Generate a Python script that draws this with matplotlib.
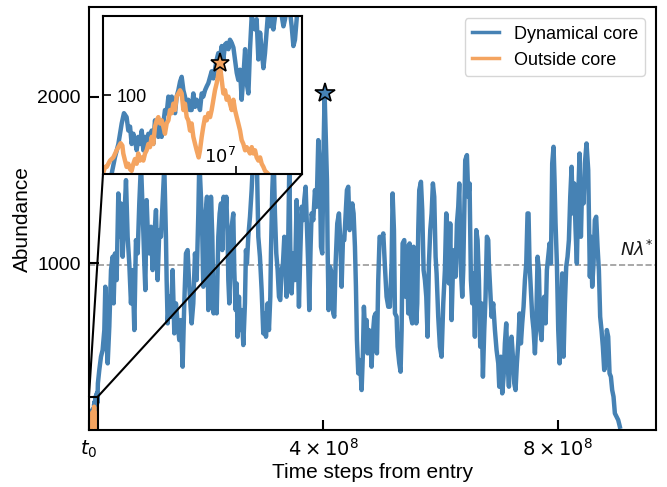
import numpy as np
import matplotlib.pyplot as plt
from matplotlib.patches import Rectangle, ConnectionPatch
from matplotlib.lines import Line2D

plt.rcParams['font.family'] = ['Liberation Sans', 'DejaVu Sans']
plt.rcParams['mathtext.fontset'] = 'dejavusans'

# time in units of 1e6 steps, abundance in individuals
# early part of the dynamical core (seen in the inset)
t_core_early = [0.65, 0.90, 1.16, 1.41, 1.58, 1.78, 1.91, 2.04, 2.16, 2.29, 2.41, 2.54, 2.66, 2.79,
                2.92, 3.04, 3.17, 3.29, 3.42, 3.54, 3.67, 3.79, 3.92, 4.05, 4.17, 4.30, 4.42, 4.55,
                4.67, 4.80, 4.93, 5.05, 5.18, 5.30, 5.43, 5.55, 5.68, 5.81, 5.93, 6.06, 6.18, 6.31,
                6.43, 6.56, 6.68, 6.81, 6.94, 7.06, 7.19, 7.31, 7.44, 7.56, 7.69, 7.82, 7.94, 8.07,
                8.19, 8.32, 8.44, 8.57, 8.69, 8.82, 8.95, 9.07, 9.20, 9.32, 9.45, 9.57, 9.70, 9.83,
                9.95, 10.08, 10.20, 10.33, 10.45, 10.58, 10.71, 10.83, 10.96, 11.08, 11.21, 11.33,
                11.46, 11.58, 11.71, 11.84, 11.96, 12.09, 12.21, 12.34, 12.46, 12.59, 12.72, 12.84,
                13.10, 13.47, 13.60, 13.72, 13.97, 14.22, 14.35, 14.47, 14.60, 14.78]
core_early = [0, 21, 38, 64, 77, 72, 55, 60, 38, 51, 43, 30, 47, 38,
              55, 30, 47, 38, 51, 47, 55, 38, 68, 55, 47, 68, 47, 64,
              81, 77, 98, 85, 98, 89, 77, 98, 106, 117, 123, 106, 98, 81,
              94, 81, 81, 102, 85, 94, 89, 81, 102, 98, 106, 111, 115, 123,
              130, 121, 132, 145, 153, 149, 162, 145, 164, 166, 158, 170, 166, 160,
              145, 128, 119, 132, 94, 123, 158, 115, 102, 158, 201, 187,
              183, 196, 145, 179, 158, 134, 153, 183, 209, 187, 204, 183,
              217, 200, 187, 196, 225, 187, 162, 170, 196, 234]

# rest of the dynamical core
t_core_late = [15.2, 17.6, 20.5, 23.3, 26.2, 27.9, 30.2, 31.9, 34.7, 37.6, 40.4, 42.1, 44.4, 47.2,
               50.1, 51.8, 54.6, 57.5, 60.3, 63.2, 66.0, 68.8, 71.7, 74.5, 77.4, 80.2, 83.1, 85.9,
               88.8, 91.6, 94.5, 96.2, 98.4, 100.1, 103.0, 105.8, 108.7, 111.5, 114.4, 117.2, 120.1,
               122.9, 125.7, 128.6, 131.4, 132.6, 134.3, 137.1, 140.0, 142.8, 145.7, 148.5, 151.4,
               154.2, 157.0, 159.9, 162.7, 165.6, 168.4, 171.3, 175.3, 178.1, 181.0, 183.8, 186.7,
               188.4, 191.2, 193.5, 195.2, 196.9, 199.2, 201.5, 203.7, 206.6, 208.3, 210.6, 212.8,
               215.1, 218.0, 220.8, 223.1, 225.4, 227.6, 229.9, 232.2, 234.5, 236.7, 237.9, 239.6,
               241.3, 243.6, 246.4, 248.1, 250.4, 252.1, 253.8, 256.1, 257.8, 260.6, 263.5, 266.3,
               268.0, 269.7, 272.0, 274.9, 277.7, 280.5, 283.4, 286.2, 289.1, 291.9, 294.8, 297.6,
               300.5, 302.2, 305.0, 307.3, 309.6, 310.7, 313.0, 315.3, 317.5, 319.8, 322.1, 324.4,
               326.6, 328.9, 331.2, 333.5, 335.7, 337.4, 340.3, 342.0, 343.7, 346.0, 348.8, 351.7,
               354.5, 356.2, 358.5, 360.8, 363.1, 365.9, 367.6, 369.9, 372.2, 374.4, 376.1, 378.4,
               380.1, 383.0, 385.8, 388.7, 391.5, 393.8, 396.1, 398.3, 400.6, 402.3, 404.0, 406.3,
               407.4, 409.1, 411.4, 414.3, 417.1, 418.8, 421.1, 423.9, 426.8, 429.1, 431.3, 433.6,
               435.9, 438.2, 440.4, 442.7, 445.0, 447.3, 449.5, 451.8, 454.1, 455.8, 457.5, 459.8,
               462.6, 465.5, 467.7, 469.4, 471.7, 474.0, 475.7, 478.0, 480.3, 482.5, 484.8, 487.1,
               489.4, 491.6, 493.9, 496.2, 499.6, 502.5, 505.3, 508.1, 511.0, 513.8, 516.7, 518.4,
               520.7, 522.4, 525.2, 526.9, 529.8, 532.0, 533.8, 535.5, 538.3, 540.6, 542.9, 545.1,
               547.4, 549.7, 552.0, 554.2, 556.5, 558.8, 560.5, 562.2, 563.9, 566.8, 569.0, 571.3,
               573.6, 575.9, 578.1, 580.4, 582.7, 585.0, 587.2, 589.5, 591.8, 593.5, 596.3, 599.2,
               602.0, 604.9, 607.7, 610.0, 612.3, 614.5, 616.8, 619.1, 621.4, 623.7, 625.9, 628.2,
               630.5, 632.2, 634.5, 637.3, 639.0, 640.7, 642.4, 645.3, 647.6, 649.8, 652.1, 654.4,
               656.7, 658.9, 661.2, 663.5, 665.8, 668.0, 670.3, 672.6, 674.9, 677.1, 679.4, 681.7,
               682.8, 685.1, 687.4, 690.2, 693.1, 695.9, 698.8, 700.5, 703.3, 705.6, 707.9, 710.1,
               712.4, 714.7, 717.0, 719.2, 721.5, 723.8, 726.1, 728.3, 730.6, 732.9, 735.2, 737.5,
               739.7, 742.0, 744.3, 746.6, 748.8, 750.5, 752.2, 754.5, 756.8, 759.1, 761.4, 763.6,
               765.9, 768.2, 770.5, 772.7, 775.0, 777.3, 779.6, 781.8, 784.1, 786.4, 788.7, 790.9,
               793.2, 794.9, 796.6, 798.9, 801.2, 803.5, 805.7, 808.0, 810.3, 812.6, 814.8, 817.1,
               819.4, 821.7, 824.0, 826.2, 828.5, 830.8, 833.0, 835.3, 837.6, 839.9, 842.1, 844.4,
               846.7, 849.5, 852.4, 855.2, 856.9, 859.2, 861.5, 863.7, 866.0, 868.3, 870.6, 872.8,
               875.1, 877.4, 879.7, 881.9, 884.2, 886.5, 888.8, 891.1, 893.3, 895.6, 897.9, 900.7,
               903.6, 906.4]
core_late = [280, 360, 440, 480, 600, 860, 520, 400, 620, 960, 1040, 760, 1060, 900,
             1420, 1160, 1360, 1040, 1260, 1500, 1160, 1000, 760, 960, 600, 1140, 1060, 1360,
             1600, 1320, 1000, 840, 1380, 1220, 1060, 1220, 960, 1160, 1320, 900, 1200,
             1160, 1360, 1580, 1160, 900, 640, 800, 680, 960, 580, 760, 640,
             540, 660, 380, 760, 1060, 1080, 860, 640, 760, 1060, 900, 1300,
             1620, 1400, 1160, 860, 1220, 1300, 1400, 720, 800, 1400, 1160, 700,
             860, 700, 1160, 1300, 1360, 1080, 1400, 1240, 1400, 1160, 900, 760,
             960, 1220, 1300, 960, 720, 880, 560, 800, 600, 720, 510, 760,
             1080, 1000, 1160, 1280, 1440, 1650, 1580, 1700, 1160, 1040, 840, 580,
             700, 560, 760, 600, 800, 1060, 1440, 1650, 1300, 1060, 960, 800,
             780, 960, 1000, 1160, 960, 800, 1160, 1580, 1100, 820, 1060, 900,
             1380, 1140, 740, 1060, 1340, 1260, 1380, 1460, 1220, 980, 720, 1100,
             1300, 1260, 1440, 1340, 1740, 1600, 1100, 1060, 1700, 2020, 1800, 1500,
             1100, 720, 980, 940, 700, 680, 1000, 1240, 1300, 1140, 860, 1140,
             1140, 1300, 1440, 1460, 1200, 1260, 1360, 1300, 1100, 860, 540, 340,
             420, 240, 460, 740, 580, 660, 460, 600, 580, 380, 580, 680,
             700, 460, 900, 1160, 1140, 1180, 980, 800, 740, 740, 1000, 1420,
             1200, 700, 680, 500, 400, 350, 600, 1120, 1140, 800, 1100, 700,
             1120, 680, 640, 1100, 1080, 640, 760, 1200, 1440, 1490, 1320, 960,
             900, 800, 560, 1000, 1200, 1300, 1480, 1400, 1040, 940, 680, 500,
             440, 760, 960, 1300, 1200, 880, 1240, 660, 960, 1080, 920, 1240,
             1340, 1480, 1000, 800, 960, 1300, 1620, 1650, 1400, 1480, 900, 760,
             940, 560, 1200, 1140, 900, 500, 760, 320, 600, 800, 1160, 1140,
             1000, 840, 680, 760, 600, 480, 400, 260, 440, 220, 320, 520,
             640, 400, 260, 500, 560, 440, 280, 240, 400, 520, 700, 520,
             640, 740, 900, 1000, 1300, 1300, 1000, 840, 680, 600, 460, 640,
             1040, 960, 600, 540, 760, 800, 640, 960, 1040, 1120, 1000, 1600,
             1700, 1500, 1240, 1000, 600, 400, 640, 940, 440, 760, 980, 1040,
             1140, 1400, 1580, 1300, 1480, 1200, 1000, 1400, 1660, 1160, 1480, 1360,
             1600, 1720, 1560, 920, 1160, 860, 1000, 1260, 1280, 1100, 960, 680,
             600, 500, 360, 400, 600, 560, 340, 320, 240, 200, 100, 80,
             60, 20]

# outside core
t_outside = [0.0, 0.15, 0.28, 0.53, 0.78, 1.03, 1.16, 1.33, 1.46, 1.53, 1.66, 1.78, 1.91, 2.04,
             2.16, 2.29, 2.41, 2.54, 2.66, 2.79, 2.92, 3.04, 3.17, 3.29, 3.42, 3.54, 3.67, 3.79,
             3.92, 4.05, 4.17, 4.30, 4.42, 4.55, 4.67, 4.80, 4.93, 5.05, 5.18, 5.30, 5.43, 5.55,
             5.68, 5.81, 5.93, 6.06, 6.18, 6.31, 6.43, 6.56, 6.68, 6.81, 6.94, 7.06, 7.21, 7.31,
             7.44, 7.56, 7.69, 7.82, 7.94, 8.07, 8.19, 8.32, 8.44, 8.57, 8.69, 8.80, 8.95, 9.07,
             9.20, 9.32, 9.45, 9.57, 9.70, 9.83, 9.95, 10.08, 10.20, 10.33, 10.45, 10.58, 10.71,
             10.83, 10.96, 11.08, 11.21, 11.33, 11.46, 11.58, 11.71, 11.84, 11.96, 12.09, 12.21,
             12.34, 12.46]
outside = [0, 9, 9, 17, 21, 30, 34, 39, 36, 26, 17, 9, 13, 6,
           4, 13, 19, 13, 26, 17, 21, 17, 26, 30, 38, 34, 47, 38,
           60, 68, 72, 64, 68, 60, 51, 64, 68, 81, 77, 89, 81, 98,
           102, 106, 102, 81, 89, 72, 68, 55, 64, 47, 38, 30, 21, 30,
           47, 60, 72, 68, 77, 72, 81, 94, 106, 115, 126, 140, 119, 102,
           106, 94, 98, 89, 81, 94, 81, 72, 64, 55, 43, 38, 30,
           34, 30, 26, 34, 26, 30, 21, 17, 21, 13, 9, 4,
           2, 0]

n_lambda = 990
xticks = [0, 4e8, 8e8]
xtick_labels = [r'$t_0$', r'$4\times10^8$', r'$8\times10^8$']
yticks = [1000, 2000]

c_core = 'steelblue'
c_out = 'sandybrown'

t_core = np.array(t_core_early + t_core_late) * 1e6
core = np.array(core_early + core_late)
t_out = np.array(t_outside) * 1e6
out = np.array(outside)

fig = plt.figure(figsize=(6.67, 4.87), dpi=100)
ax = fig.add_axes([0.1334, 0.117, 0.850, 0.8676])

ax.axhline(n_lambda, color='0.6', ls='--', lw=1.2, zorder=1)
ax.plot(t_core, core, color=c_core, lw=3.2, zorder=2)
ax.plot(t_out, out, color=c_out, lw=3.2, zorder=3)
i_max = np.argmax(core)
ax.plot(t_core[i_max], core[i_max], marker='*', ms=15, mfc=c_core, mec='k', mew=1.2, zorder=6)

ax.set_xlim(0, 9.68e8)
ax.set_ylim(0, 2536)
ax.text(9.64e8, n_lambda + 30, r'$N\lambda^{*}$', ha='right', va='bottom', fontsize=13, color='0.1')
ax.set_xticks(xticks)
ax.set_xticklabels(xtick_labels)
ax.set_yticks(yticks)
ax.tick_params(direction='in', length=7, width=1.5, labelsize=14, pad=6)
for s in ax.spines.values():
    s.set_linewidth(1.5)
ax.set_xlabel('Time steps from entry', fontsize=15, labelpad=2)
ax.set_ylabel('Abundance', fontsize=15, labelpad=4)

legend_handles = [
    Line2D([0], [0], color=c_core, lw=2.5, label='Dynamical core'),
    Line2D([0], [0], color=c_out, lw=2.5, label='Outside core'),
]
ax.legend(handles=legend_handles, loc='upper right', fontsize=13, handlelength=1.5,
          borderaxespad=0.6)

# inset
x0, x1, y0, y1 = 0, 1.5e7, 0, 200
axins = fig.add_axes([0.1544, 0.6427, 0.2984, 0.3244])
axins.plot(t_core, core, color=c_core, lw=3.2)
axins.plot(t_out, out, color=c_out, lw=3.2)
j_max = np.argmax(out)
axins.plot(t_out[j_max], out[j_max], marker='*', ms=14, mfc=c_out, mec='k', mew=1.2, zorder=6)
axins.set_xlim(x0, x1)
axins.set_ylim(y0, y1)
axins.set_xticks([1e7])
axins.set_xticklabels([r'$10^7$'])
axins.set_yticks([100])
axins.tick_params(direction='in', length=6, width=1.2, labelsize=13)
axins.tick_params(axis='y', pad=-10)
axins.tick_params(axis='x', pad=-5)
for lab in axins.get_yticklabels():
    lab.set_horizontalalignment('left')
for lab in axins.get_xticklabels():
    lab.set_horizontalalignment('right')
    lab.set_verticalalignment('bottom')
for s in axins.spines.values():
    s.set_linewidth(1.5)

ax.add_patch(Rectangle((x0, y0), x1 - x0, y1 - y0, fill=False, ec='k', lw=1.5, zorder=5))
for xa, xb in [(x0, x0), (x1, x1)]:
    con = ConnectionPatch(xyA=(xa, y1), coordsA=ax.transData,
                          xyB=(xb, y0), coordsB=axins.transData,
                          color='k', lw=1.5, zorder=5)
    fig.add_artist(con)

fig.savefig('out.png', dpi=100)
